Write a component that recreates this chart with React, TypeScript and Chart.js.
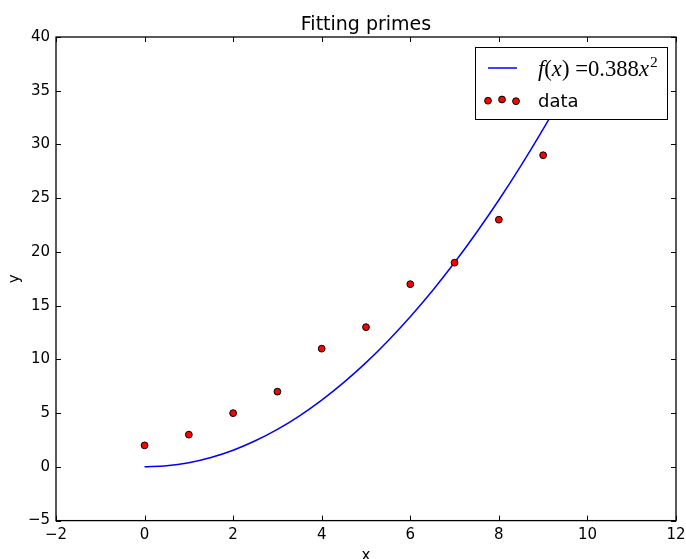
import React, { useEffect, useRef } from "react";
import { Chart, registerables } from "chart.js";

Chart.register(...registerables);

const titleText = "Fitting primes";
const xLabel = "x";
const yLabel = "y";
const dataLabel = "data";

const primeX = [0, 1, 2, 3, 4, 5, 6, 7, 8, 9];
const primeY = [2, 3, 5, 7, 11, 13, 17, 19, 23, 29];

const fitX = [0, 0.5, 1, 1.5, 2, 2.5, 3, 3.5, 4, 4.5, 5, 5.5, 6, 6.5, 7, 7.5, 8, 8.5, 9, 9.5, 10];
const fitY = [0, 0.1, 0.39, 0.87, 1.55, 2.43, 3.49, 4.75, 6.21, 7.86, 9.7, 11.74, 13.97, 16.39, 19.01, 21.83, 24.83, 28.03, 31.43, 35.02, 38.8];

const xMin = -2;
const xMax = 12;
const xStep = 2;
const yMin = -5;
const yMax = 40;
const yStep = 5;

const FONT = "'DejaVu Sans', sans-serif";
const MATH = "'Liberation Serif', 'DejaVu Serif', serif";

const fmt = (v: number) => String(v).replace("-", "\u2212");

const decorPlugin = {
  id: "decor",
  afterDatasetsDraw(chart: any) {
    const { ctx, chartArea: a, scales } = chart;
    const xs = scales.x;
    const ys = scales.y;
    ctx.save();
    // frame
    ctx.strokeStyle = "#000";
    ctx.lineWidth = 1.3;
    ctx.strokeRect(a.left, a.top, a.right - a.left, a.bottom - a.top);
    // inward ticks on all four sides
    ctx.lineWidth = 1;
    const tl = 5;
    ctx.beginPath();
    for (let v = xMin; v <= xMax; v += xStep) {
      const px = Math.round(xs.getPixelForValue(v)) + 0.5;
      ctx.moveTo(px, a.bottom);
      ctx.lineTo(px, a.bottom - tl);
      ctx.moveTo(px, a.top);
      ctx.lineTo(px, a.top + tl);
    }
    for (let v = yMin; v <= yMax; v += yStep) {
      const py = Math.round(ys.getPixelForValue(v)) + 0.5;
      ctx.moveTo(a.left, py);
      ctx.lineTo(a.left + tl, py);
      ctx.moveTo(a.right, py);
      ctx.lineTo(a.right - tl, py);
    }
    ctx.stroke();

    // title
    ctx.fillStyle = "#000";
    ctx.font = `19px ${FONT}`;
    ctx.textAlign = "center";
    ctx.textBaseline = "alphabetic";
    ctx.fillText(titleText, (a.left + a.right) / 2, 30);

    // axis labels
    ctx.font = `15px ${FONT}`;
    ctx.fillText(xLabel, (a.left + a.right) / 2, 560);
    ctx.save();
    ctx.translate(19, (a.top + a.bottom) / 2);
    ctx.rotate(-Math.PI / 2);
    ctx.fillText(yLabel, 0, 0);
    ctx.restore();

    // legend
    const lx = 475, ly = 47, lw = 192, lh = 72;
    ctx.fillStyle = "#fff";
    ctx.fillRect(lx, ly, lw, lh);
    ctx.strokeStyle = "#000";
    ctx.lineWidth = 1;
    ctx.strokeRect(lx + 0.5, ly + 0.5, lw, lh);

    ctx.strokeStyle = "#0000ff";
    ctx.lineWidth = 1.5;
    ctx.beginPath();
    ctx.moveTo(488, 68);
    ctx.lineTo(517, 68);
    ctx.stroke();

    // math text f(x) =0.388x^2
    const size = 19;
    const parts: [string, boolean][] = [
      ["f", true],
      ["(", false],
      ["x", true],
      [")", false],
      [" =", false],
      ["0.388", false],
      ["x", true],
    ];
    const supSize = 13;
    let total = 0;
    for (const [t, it] of parts) {
      ctx.font = `${it ? "italic " : ""}${size}px ${MATH}`;
      total += ctx.measureText(t).width;
    }
    ctx.font = `${supSize}px ${MATH}`;
    total += ctx.measureText("2").width + 1;
    const scale = 120 / total;
    const s = size * scale;
    let cx = 538;
    ctx.fillStyle = "#000";
    ctx.textAlign = "left";
    for (const [t, it] of parts) {
      ctx.font = `${it ? "italic " : ""}${s}px ${MATH}`;
      ctx.fillText(t, cx, 76);
      cx += ctx.measureText(t).width;
    }
    ctx.font = `${supSize * scale}px ${MATH}`;
    ctx.fillText("2", cx + 1, 67);

    // scatter legend markers
    const mk = [
      [488, 100.7],
      [502, 99.5],
      [516, 101.2],
    ];
    for (const [mx, my] of mk) {
      ctx.beginPath();
      ctx.arc(mx, my, 3.4, 0, Math.PI * 2);
      ctx.fillStyle = "#ff0000";
      ctx.fill();
      ctx.strokeStyle = "#000";
      ctx.lineWidth = 1;
      ctx.stroke();
    }
    ctx.fillStyle = "#000";
    ctx.font = `18px ${FONT}`;
    ctx.fillText(dataLabel, 538, 107);
    ctx.restore();
  },
};

export default function App() {
  const ref = useRef<HTMLCanvasElement | null>(null);
  useEffect(() => {
    document.body.style.margin = "0";
    const canvas = ref.current!;
    const chart = new Chart(canvas, {
      type: "scatter",
      data: {
        datasets: [
          {
            type: "line",
            label: "fit",
            data: fitX.map((x, i) => ({ x, y: fitY[i] })),
            borderColor: "#0000ff",
            borderWidth: 1.5,
            pointRadius: 0,
            fill: false,
            cubicInterpolationMode: "monotone",
            order: 2,
          } as any,
          {
            label: dataLabel,
            data: primeX.map((x, i) => ({ x, y: primeY[i] })),
            backgroundColor: "#ff0000",
            borderColor: "#000000",
            borderWidth: 1,
            pointRadius: 3.4,
            order: 1,
          },
        ],
      },
      options: {
        responsive: false,
        animation: false,
        layout: { padding: { top: 37, right: 10, left: 0, bottom: 0 } },
        plugins: {
          legend: { display: false },
          title: { display: false },
          tooltip: { enabled: false },
        },
        scales: {
          x: {
            type: "linear",
            min: xMin,
            max: xMax,
            grid: { display: false, drawTicks: false },
            border: { display: false },
            ticks: {
              stepSize: xStep,
              color: "#000",
              font: { family: FONT, size: 15 },
              padding: 6,
              maxRotation: 0,
              callback: (v: any) => fmt(Number(v)),
            },
            afterFit: (sc: any) => {
              sc.height = 38.4;
              sc.paddingLeft = 0;
              sc.paddingRight = 0;
            },
          },
          y: {
            type: "linear",
            min: yMin,
            max: yMax,
            grid: { display: false, drawTicks: false },
            border: { display: false },
            ticks: {
              stepSize: yStep,
              color: "#000",
              font: { family: FONT, size: 15 },
              padding: 6,
              callback: (v: any) => fmt(Number(v)),
            },
            afterFit: (sc: any) => {
              sc.width = 56;
              sc.paddingTop = 0;
              sc.paddingBottom = 0;
            },
          },
        },
      },
      plugins: [decorPlugin],
    });
    return () => chart.destroy();
  }, []);
  return (
    <div style={{ position: "absolute", left: 0, top: 0, width: 686, height: 559 }}>
      <canvas ref={ref} width={686} height={559} style={{ display: "block" }} />
    </div>
  );
}
